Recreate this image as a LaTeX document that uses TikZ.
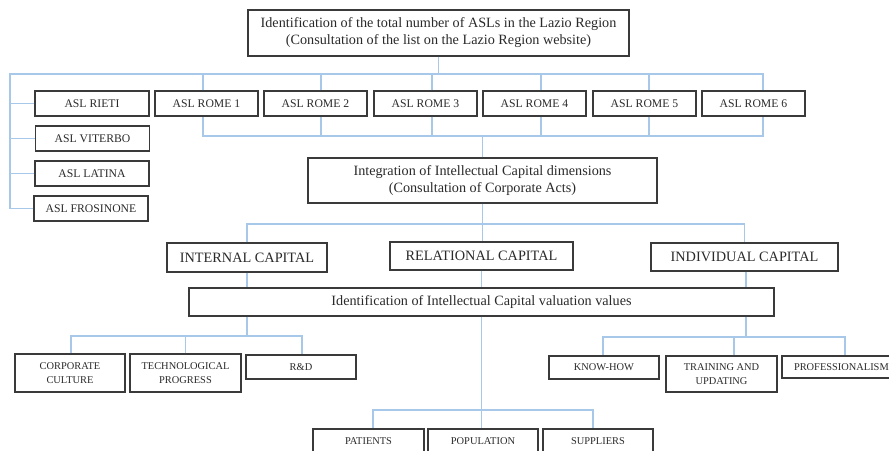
\documentclass[tikz,border=0pt]{standalone}
\usepackage{fontspec}
\setmainfont{Liberation Serif}
\definecolor{boxc}{HTML}{3A3A3A}
\definecolor{txtc}{HTML}{2A2A2A}
\definecolor{linec}{HTML}{A7C8E8}
\tikzset{
  box/.style={draw=boxc, line width=1.3pt, fill=white, text=txtc, align=center, inner sep=0pt},
  bigtxt/.style={font=\fontsize{14.2}{17}\selectfont},
  asltxt/.style={font=\fontsize{11.7}{13}\selectfont},
  captxt/.style={font=\fontsize{14.3}{16}\selectfont},
  smalltxt/.style={font=\fontsize{10.4}{14}\selectfont},
  conn/.style={draw=linec, line width=1.1pt}
}
\begin{document}
\begin{tikzpicture}[x=1pt,y=-1pt]
\useasboundingbox (0,0) rectangle (889,450);
\clip (0,0) rectangle (889,450);
% top
\node[box,bigtxt,minimum width=381pt,minimum height=46pt] (top) at (438.5,33) {Identification of the total number of ASLs in the Lazio Region\\(Consultation of the list on the Lazio Region website)};
% left ASLs
\node[box,asltxt,minimum width=114pt,minimum height=25pt] (rieti) at (92,103.5) {ASL RIETI};
\node[box,asltxt,minimum width=114pt,minimum height=25pt] (viterbo) at (92.5,138.5) {ASL VITERBO};
\node[box,asltxt,minimum width=114pt,minimum height=25pt] (latina) at (92,173.5) {ASL LATINA};
\node[box,asltxt,minimum width=114pt,minimum height=25pt] (frosinone) at (91,208.5) {ASL FROSINONE};
% Rome
\node[box,asltxt,minimum width=103pt,minimum height=25pt] (rome1) at (206.5,103.5) {ASL ROME 1};
\node[box,asltxt,minimum width=103pt,minimum height=25pt] (rome2) at (315.5,103.5) {ASL ROME 2};
\node[box,asltxt,minimum width=103pt,minimum height=25pt] (rome3) at (425.5,103.5) {ASL ROME 3};
\node[box,asltxt,minimum width=103pt,minimum height=25pt] (rome4) at (534.5,103.5) {ASL ROME 4};
\node[box,asltxt,minimum width=103pt,minimum height=25pt] (rome5) at (644.5,103.5) {ASL ROME 5};
\node[box,asltxt,minimum width=103pt,minimum height=25pt] (rome6) at (753.5,103.5) {ASL ROME 6};
% integration
\node[box,bigtxt,minimum width=349pt,minimum height=45pt] (integ) at (482.5,180.5) {Integration of Intellectual Capital dimensions\\(Consultation of Corporate Acts)};
% capitals
\node[box,captxt,minimum width=160pt,minimum height=29pt] (internal) at (247,257.5) {INTERNAL CAPITAL};
\node[box,captxt,minimum width=183pt,minimum height=28pt] (relational) at (481.5,256) {RELATIONAL CAPITAL};
\node[box,captxt,minimum width=187pt,minimum height=28pt] (individual) at (744.5,257) {INDIVIDUAL CAPITAL};
% valuation
\node[box,bigtxt,minimum width=585pt,minimum height=28pt] (valu) at (481.5,302) {Identification of Intellectual Capital valuation values};
% internal leaves
\node[box,smalltxt,minimum width=110pt,minimum height=38pt] (corp) at (70,373) {CORPORATE\\CULTURE};
\node[box,smalltxt,minimum width=111pt,minimum height=38pt] (tech) at (185.5,373) {TECHNOLOGICAL\\PROGRESS};
\node[box,smalltxt,minimum width=110pt,minimum height=24pt] (rd) at (301,367) {R\&D};
% relational leaves
\node[box,smalltxt,minimum width=111pt,minimum height=24pt] (patients) at (368.5,441) {PATIENTS};
\node[box,smalltxt,minimum width=110pt,minimum height=24pt] (population) at (483,441) {POPULATION};
\node[box,smalltxt,minimum width=110pt,minimum height=24pt] (suppliers) at (598,441) {SUPPLIERS};
% individual leaves
\node[box,smalltxt,minimum width=110pt,minimum height=23pt] (knowhow) at (604,367.5) {KNOW-HOW};
\node[box,smalltxt,minimum width=111pt,minimum height=36pt] (training) at (721.5,374) {TRAINING AND\\UPDATING};
\node[box,smalltxt,minimum width=112pt,minimum height=22pt,text width=112pt,align=left] (prof) at (838,367) {\hspace*{12pt}PROFESSIONALISM};
% bus coordinates
\coordinate (b1) at (10,74);
\coordinate (b2) at (0,136);
\coordinate (b3) at (0,224);
\coordinate (b4) at (0,336);
\coordinate (b5) at (0,410);
\coordinate (b6) at (0,337);
% top bus
\draw[conn] (top.south) -- (top.south |- b1);
\draw[conn] (frosinone.west) -| (b1) -| ([xshift=9.5pt]rome6.north);
\draw[conn] (rieti.west) -- (rieti.west -| b1);
\draw[conn] (viterbo.west) -- (viterbo.west -| b1);
\draw[conn] (latina.west) -- (latina.west -| b1);
\draw[conn] ([xshift=-3.5pt]rome1.north) -- ([xshift=-3.5pt]rome1.north |- b1);
\draw[conn] ([xshift=5.5pt]rome2.north) -- ([xshift=5.5pt]rome2.north |- b1);
\draw[conn] ([xshift=6.5pt]rome3.north) -- ([xshift=6.5pt]rome3.north |- b1);
\draw[conn] ([xshift=6.5pt]rome4.north) -- ([xshift=6.5pt]rome4.north |- b1);
\draw[conn] ([xshift=4.5pt]rome5.north) -- ([xshift=4.5pt]rome5.north |- b1);
% rome bottom bus
\draw[conn] ([xshift=-3.5pt]rome1.south) |- ([xshift=9.5pt]rome6.south |- b2) -- ([xshift=9.5pt]rome6.south);
\draw[conn] ([xshift=5.5pt]rome2.south) -- ([xshift=5.5pt]rome2.south |- b2);
\draw[conn] ([xshift=6.5pt]rome3.south) -- ([xshift=6.5pt]rome3.south |- b2);
\draw[conn] ([xshift=6.5pt]rome4.south) -- ([xshift=6.5pt]rome4.south |- b2);
\draw[conn] ([xshift=4.5pt]rome5.south) -- ([xshift=4.5pt]rome5.south |- b2);
\draw[conn] (integ.north) -- (integ.north |- b2);
% capitals bus
\draw[conn] (internal.north) |- (individual.north |- b3) -- (individual.north);
\draw[conn] (integ.south) -- (integ.south |- relational.north);
% capitals to valuation
\draw[conn] (internal.south) -- (internal.south |- valu.north);
\draw[conn] (relational.south) -- (relational.south |- valu.north);
\draw[conn] ([xshift=1.5pt]individual.south) -- ([xshift=1.5pt]individual.south |- valu.north);
% internal branch
\draw[conn] (internal.south |- valu.south) -- (internal.south |- b4);
\draw[conn] ([xshift=1pt]corp.north) |- ([xshift=1pt]rd.north |- b4) -- ([xshift=1pt]rd.north);
\draw[conn] (tech.north) -- (tech.north |- b4);
% relational branch
\draw[conn] (relational.south |- valu.south) -- (relational.south |- population.north);
\draw[conn] ([xshift=4.5pt]patients.north) |- ([xshift=-5pt]suppliers.north |- b5) -- ([xshift=-5pt]suppliers.north);
% individual branch
\draw[conn] ([xshift=1.5pt]individual.south |- valu.south) -- ([xshift=1.5pt]individual.south |- b6);
\draw[conn] ([xshift=-1pt]knowhow.north) |- ([xshift=7pt]prof.north |- b6) -- ([xshift=7pt]prof.north);
\draw[conn] ([xshift=12.5pt]training.north) -- ([xshift=12.5pt]training.north |- b6);
\end{tikzpicture}
\end{document}
